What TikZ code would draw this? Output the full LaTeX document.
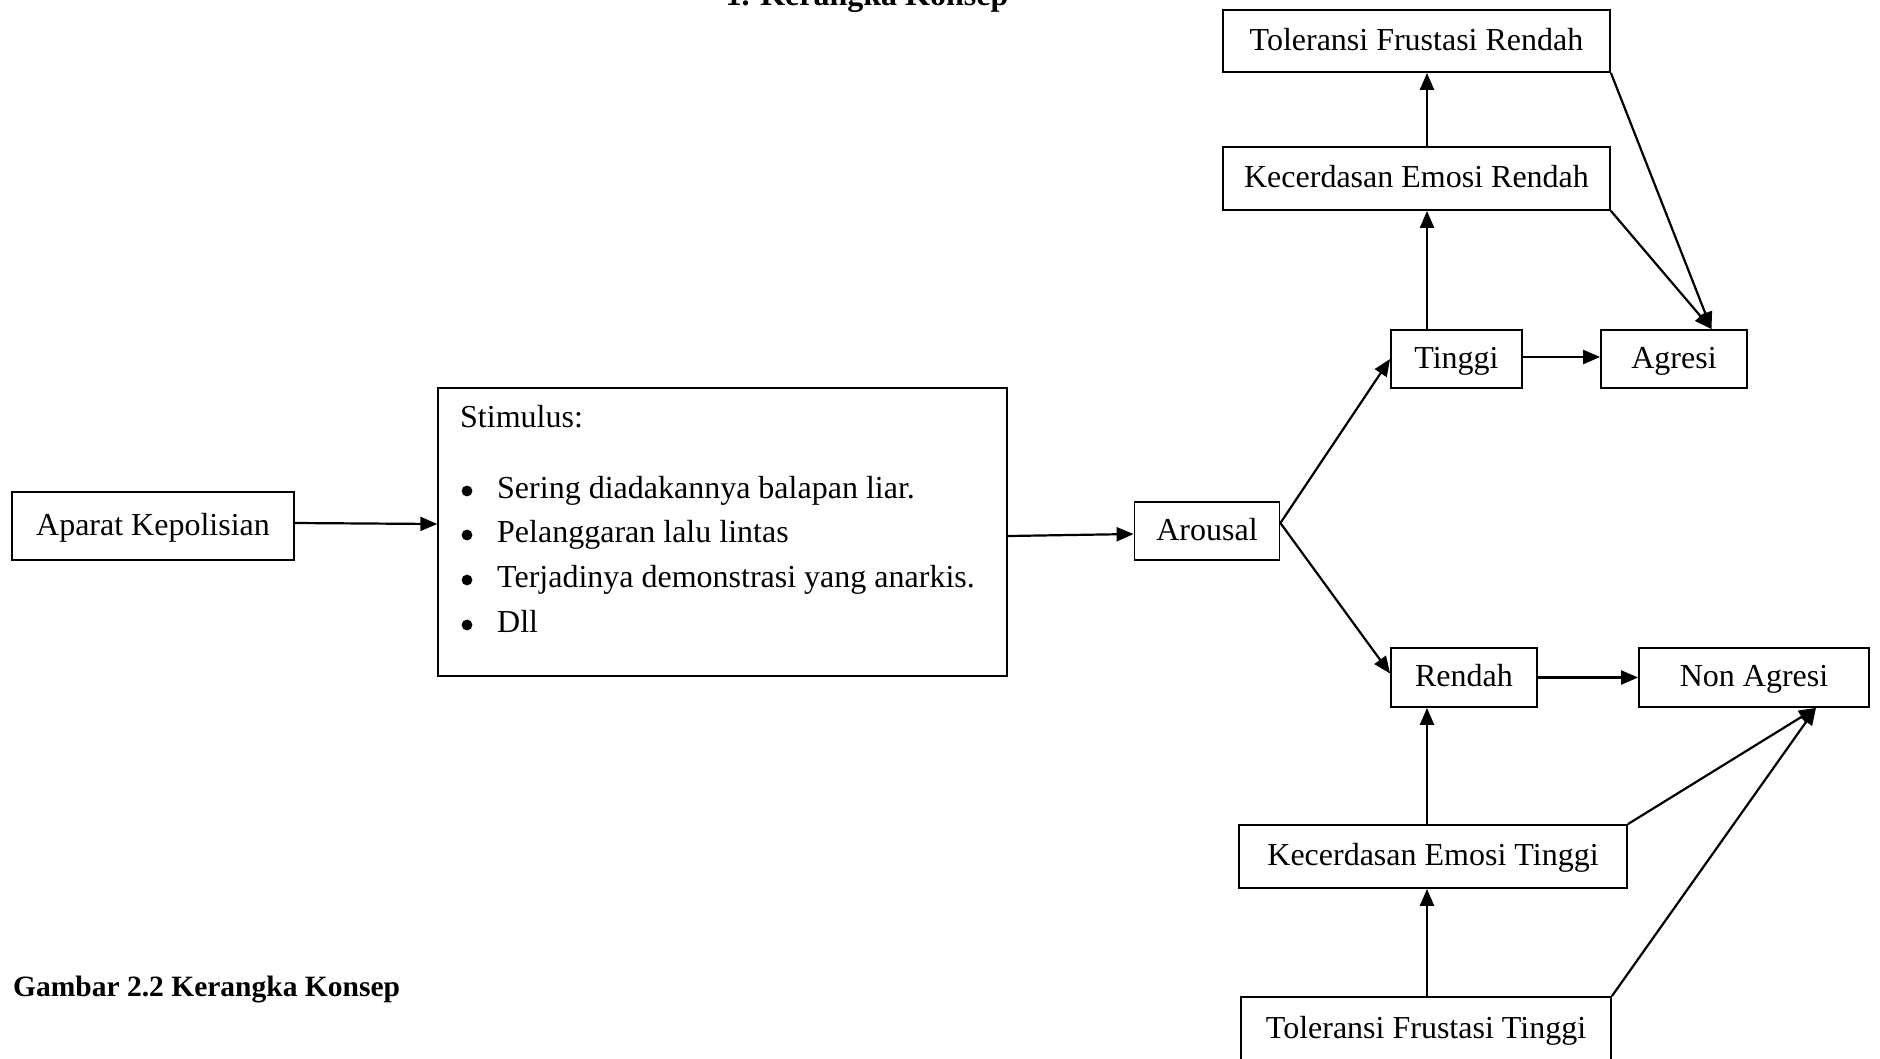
\documentclass[tikz,border=0pt]{standalone}
\usepackage{fontspec}
\setmainfont{Liberation Serif}
\usetikzlibrary{arrows.meta}
\begin{document}
\begin{tikzpicture}[x=1pt,y=-1pt,
  box/.style={draw, line width=1.8pt, inner sep=0pt, text height=23pt, text depth=5pt,
    font=\fontsize{32}{38}\selectfont},
  conn/.style={line width=2.2pt, -{Triangle[length=17pt,width=14pt]}},
  txt/.style={inner sep=0pt, anchor=base west, font=\fontsize{32}{38}\selectfont}]
\useasboundingbox (0,0) rectangle (1880,1058);
% title and caption
\node[inner sep=0pt, anchor=base, font=\bfseries\fontsize{32}{38}\selectfont] (title) at (867,5) {1. Kerangka Konsep};
\node[inner sep=0pt, anchor=base west, font=\bfseries\fontsize{29.5}{35}\selectfont] (cap) at (13,996) {Gambar 2.2 Kerangka Konsep};
% boxes
\node[box, minimum width=282pt, minimum height=68pt] (ap) at (153,526) {Aparat Kepolisian};
\node[box, minimum width=569pt, minimum height=288pt] (stim) at (722.7,532) {};
\node[box, minimum width=145pt, minimum height=58pt] (ar) at (1207,531) {Arousal};
\node[box, minimum width=387pt, minimum height=62pt] (tfr) at (1416.5,41) {Toleransi Frustasi Rendah};
\node[box, minimum width=387pt, minimum height=63pt] (ker) at (1416.5,178.5) {Kecerdasan Emosi Rendah};
\node[box, minimum width=131pt, minimum height=58pt] (ti) at (1456.5,359) {Tinggi};
\node[box, minimum width=146pt, minimum height=58pt] (ag) at (1674,359) {Agresi};
\node[box, minimum width=146pt, minimum height=59pt] (re) at (1464,677.5) {Rendah};
\node[box, minimum width=230pt, minimum height=59pt] (na) at (1754,677.5) {Non Agresi};
\node[box, minimum width=388pt, minimum height=63pt] (ket) at (1433,856.5) {Kecerdasan Emosi Tinggi};
\node[box, minimum width=370pt, minimum height=64pt] (tft) at (1426,1029) {Toleransi Frustasi Tinggi};
% stimulus text
\node[txt] (s0) at (460,427) {Stimulus:};
\node[txt] (s1) at (497,498) {Sering diadakannya balapan liar.};
\node[txt] (s2) at (497,542) {Pelanggaran lalu lintas};
\node[txt] (s3) at (497,587) {Terjadinya demonstrasi yang anarkis.};
\node[txt] (s4) at (497,632) {Dll};
\foreach \yy in {491,535,580,625} \fill (467,\yy) circle (5.4);
% connectors
\draw[conn] ([yshift=3pt]ap.east) -- ([yshift=8pt]stim.west);
\draw[conn] ([yshift=-4pt]stim.east) -- ([yshift=-3pt]ar.west);
\draw[conn] ([yshift=8pt]ar.east) -- (ti.west);
\draw[conn] ([yshift=8pt]ar.east) -- ([yshift=4pt]re.west);
\draw[conn] ([xshift=-29.5pt]ti.north) -- ([xshift=-29.5pt]ti.north |- ker.south);
\draw[conn] ([xshift=10.5pt]ker.north) -- ([xshift=10.5pt]tfr.south);
\draw[conn] ([yshift=2pt]ti.east) -- ([yshift=2pt]ag.west);
\draw[conn] (ker.south east) -- ([xshift=37.5pt]ag.north);
\draw[conn] (tfr.south east) -- ([xshift=37.5pt]ag.north);
\draw[conn] (re.east) -- (na.west);
\draw[conn] ([xshift=-6pt]ket.north) -- ([xshift=-6pt]ket.north |- re.south);
\draw[conn] ([xshift=1pt]tft.north) -- ([xshift=1pt]tft.north |- ket.south);
\draw[conn] (ket.north east) -- ([xshift=62pt]na.south);
\draw[conn] (tft.north east) -- ([xshift=62pt]na.south);
\end{tikzpicture}
\end{document}
